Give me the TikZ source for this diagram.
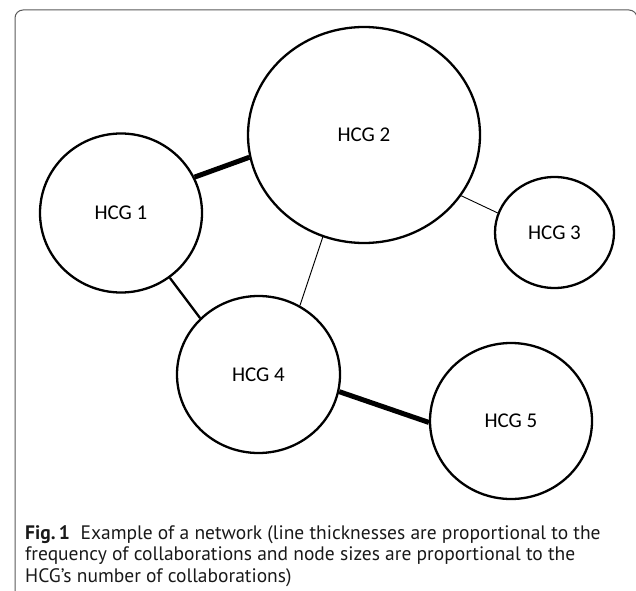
\documentclass[tikz,border=0pt]{standalone}
\usepackage{fontspec}
\setmainfont{PT Sans}
\newfontfamily\hcgfont{Carlito}
\usetikzlibrary{shapes.geometric}

\begin{document}
\begin{tikzpicture}[
  x=1pt, y=1pt,
  hcg/.style={draw, ellipse, line width=2.3pt, inner sep=0pt, font=\hcgfont\fontsize{21}{25}\selectfont},
  weak/.style={draw, line width=0.9pt},
  medium/.style={draw, line width=2.3pt},
  strong/.style={draw, line width=5pt},
  frame/.style={draw=black!65, line width=1pt, rounded corners=8pt}
  ]
\useasboundingbox (0,0) rectangle (636,590);
\draw[frame] (15,-10) -- (15,580) -- (637,580) -- (637,-10);

% care groups, size = number of collaborations
\node[hcg, minimum width=162pt, minimum height=159pt] (hcg1) at (121,377) {HCG 1};
\node[hcg, minimum width=232pt, minimum height=216pt] (hcg2) at (364,455) {HCG 2};
\node[hcg, minimum width=119pt, minimum height=111pt] (hcg3) at (554.5,357.5) {HCG 3};
\node[hcg, minimum width=163pt, minimum height=157pt] (hcg4) at (258.5,215.5) {HCG 4};
\node[hcg, minimum width=162pt, minimum height=156pt] (hcg5) at (511,169) {HCG 5};

% links, width = frequency
\draw[strong] (hcg1.26) -- (hcg2.191);
\draw[medium] (hcg1.-53) -- (hcg4.136);
\draw[weak] (hcg2.248) -- (hcg4.59);
\draw[weak] (hcg2.-32) -- (hcg3.161);
\draw[strong] (hcg4.-12) -- (hcg5.181);

\node[anchor=north west, align=left, inner sep=0pt, text=black!90,
  font=\fontsize{19.5}{21.5}\selectfont] (caption) at (25,65)
  {\textbf{Fig.\,1}\hspace{0.55em}Example of a network (line thicknesses are proportional to the\\
   frequency of collaborations and node sizes are proportional to the\\
   HCG’s number of collaborations)};
\end{tikzpicture}
\end{document}
